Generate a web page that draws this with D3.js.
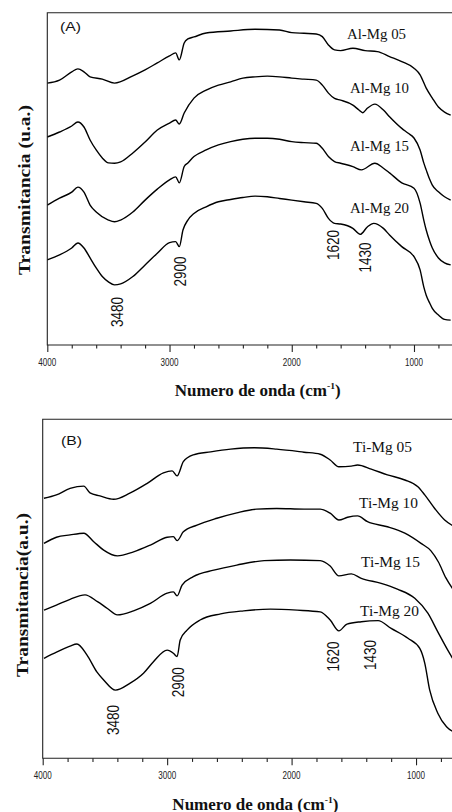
<!DOCTYPE html>
<html>
<head>
<meta charset="utf-8">
<script src="https://cdn.jsdelivr.net/npm/d3@7/dist/d3.min.js"></script>
<style>
  html, body { margin: 0; padding: 0; background: #fff; }
  svg { display: block; }
</style>
</head>
<body>
<script>
// ---------------- DATA (wavenumber cm-1, transmittance a.u. 0-100) ----------------
const alMg05 = [[4000,78.8],[3900,79.7],[3800,82.2],[3750,83.1],[3700,82.2],[3650,80.7],[3550,80.0],[3450,78.8],[3300,81.0],[3200,82.8],[3100,84.9],[3000,87.0],[2950,87.9],[2920,85.8],[2880,90.9],[2850,92.1],[2800,92.7],[2700,93.9],[2500,94.5],[2300,95.0],[2100,94.8],[2000,94.0],[1900,93.8],[1800,93.6],[1750,92.8],[1700,90.3],[1650,88.8],[1600,88.6],[1500,89.3],[1400,88.6],[1300,88.3],[1200,86.8],[1100,85.3],[1000,83.3],[950,81.3],[900,77.3],[850,74.3],[800,71.6],[750,70.1],[700,69.2]];
const alMg10 = [[4000,62.6],[3900,64.1],[3800,65.9],[3750,67.1],[3700,65.6],[3650,61.7],[3600,58.7],[3550,56.3],[3500,54.8],[3450,54.7],[3400,55.1],[3300,57.8],[3200,61.1],[3100,64.7],[3000,66.8],[2950,67.7],[2920,66.5],[2880,69.8],[2800,74.3],[2700,76.7],[2600,78.2],[2500,79.2],[2400,80.3],[2300,80.7],[2200,80.9],[2100,80.7],[2000,80.3],[1900,80.0],[1800,79.7],[1750,78.2],[1700,75.8],[1650,74.2],[1600,73.7],[1500,72.2],[1450,70.7],[1420,69.9],[1380,71.3],[1320,72.5],[1250,70.7],[1200,68.7],[1100,65.2],[1050,63.8],[1000,62.3],[950,58.7],[920,54.8],[900,52.7],[870,49.7],[850,48.1],[800,46.1],[750,44.6],[700,43.6]];
const alMg15 = [[4000,42.1],[3900,44.2],[3800,46.0],[3750,47.5],[3700,46.0],[3650,42.1],[3600,40.0],[3500,37.6],[3450,37.1],[3400,37.6],[3300,40.0],[3200,43.6],[3100,46.9],[3000,49.7],[2950,50.6],[2920,48.8],[2880,53.7],[2850,54.8],[2800,56.7],[2700,58.7],[2600,60.2],[2500,61.2],[2400,61.9],[2300,62.2],[2200,62.2],[2100,61.9],[2000,61.2],[1900,60.9],[1800,60.7],[1750,59.2],[1700,56.7],[1650,55.2],[1600,54.7],[1500,53.7],[1430,52.7],[1320,54.7],[1250,53.2],[1200,51.8],[1100,48.8],[1000,47.2],[950,42.7],[920,37.6],[900,34.6],[870,31.1],[850,29.2],[800,26.2],[750,24.7],[700,24.1]];
const alMg20 = [[4000,25.6],[3900,27.1],[3800,29.2],[3750,30.7],[3700,29.2],[3650,26.2],[3600,23.2],[3550,20.6],[3500,19.0],[3450,18.1],[3400,18.4],[3300,20.6],[3200,24.1],[3100,27.6],[3000,30.8],[2950,31.1],[2920,29.6],[2890,34.6],[2850,37.6],[2800,39.6],[2700,41.6],[2600,43.1],[2500,43.8],[2400,44.4],[2300,44.8],[2200,44.6],[2100,44.1],[2000,43.6],[1900,43.1],[1800,42.6],[1750,41.1],[1700,38.1],[1650,36.6],[1600,36.4],[1500,35.1],[1440,33.3],[1380,35.6],[1330,36.6],[1250,35.1],[1200,33.1],[1100,29.6],[1000,26.6],[950,22.6],[920,17.5],[900,15.0],[870,12.5],[850,11.0],[800,9.0],[750,7.7],[700,7.5]];

const tiMg05 = [[3990,76.7],[3890,77.7],[3780,79.6],[3670,80.3],[3620,78.3],[3540,77.4],[3430,76.4],[3300,78.2],[3160,81.1],[3030,84.2],[2960,84.8],[2920,83.3],[2870,87.5],[2790,89.5],[2650,90.4],[2490,91.2],[2300,91.6],[2120,91.2],[1900,90.3],[1770,89.7],[1690,88.0],[1620,86.0],[1520,86.2],[1470,86.5],[1360,85.3],[1230,83.6],[1090,82.1],[985,80.1],[930,77.7],[850,73.7],[770,70.3],[700,68.5]];
const tiMg10 = [[3990,63.4],[3890,65.2],[3780,65.9],[3670,66.4],[3590,63.9],[3510,61.4],[3400,59.7],[3270,60.9],[3135,62.9],[3000,65.2],[2950,65.4],[2920,64.2],[2870,66.8],[2760,68.8],[2600,70.8],[2440,72.4],[2280,73.5],[2120,73.7],[1900,73.5],[1770,73.5],[1690,72.3],[1620,70.3],[1550,71.1],[1470,71.5],[1390,69.8],[1230,68.3],[1090,66.4],[960,63.4],[880,61.2],[820,57.9],[760,53.2],[700,49.7]];
const tiMg15 = [[3990,43.7],[3890,45.2],[3780,46.9],[3660,48.2],[3560,46.2],[3480,44.2],[3400,42.3],[3270,43.5],[3135,45.7],[3000,48.7],[2950,49.1],[2920,47.9],[2880,51.1],[2790,53.6],[2625,55.5],[2440,57.0],[2220,58.3],[2010,58.5],[1770,58.3],[1690,56.7],[1620,53.8],[1520,54.4],[1440,53.1],[1280,51.6],[1150,49.9],[1010,47.2],[905,42.8],[825,37.3],[745,31.9],[700,29.1]];
const tiMg20 = [[3990,29.5],[3885,31.4],[3780,33.1],[3725,33.7],[3645,30.5],[3565,25.5],[3510,23.1],[3415,20.1],[3300,22.1],[3190,25.1],[3110,28.5],[3000,31.9],[2950,31.0],[2920,30.0],[2895,34.9],[2840,37.8],[2735,40.8],[2570,42.6],[2385,43.5],[2170,44.0],[1955,43.7],[1770,43.2],[1690,40.8],[1620,37.6],[1555,39.6],[1440,40.3],[1305,40.6],[1200,38.3],[1065,35.4],[970,32.4],[930,28.1],[890,20.1],[825,13.3],[755,9.3],[700,7.8]];

const seriesNamesA = ["Al-Mg 05","Al-Mg 10","Al-Mg 15","Al-Mg 20"];
const seriesNamesB = ["Ti-Mg 05","Ti-Mg 10","Ti-Mg 15","Ti-Mg 20"];
const peakLabels = ["3480","2900","1620","1430"];
const xMajorTicks = [4000,3000,2000,1000];
const xMinorTicks = [3800,3600,3400,3200,2800,2600,2400,2200,1800,1600,1400,1200,800];
const xTickLabels = ["4000","3000","2000","1000"];

// ---------------- LAYOUT ----------------
const W = 452, H = 812;
const SERIF = "'Liberation Serif','Times New Roman',serif";
const SANS = "'Liberation Sans',Arial,sans-serif";
const INK = "#111";

const svg = d3.select("body").append("svg").attr("width", W).attr("height", H);
svg.append("rect").attr("width", W).attr("height", H).attr("fill", "#fff");

function txt(g, s, x, y, o) {
  const t = g.append("text")
    .attr("font-family", o.family || SERIF)
    .attr("font-size", o.size)
    .attr("font-weight", o.weight || "normal")
    .attr("fill", o.fill || INK)
    .attr("text-anchor", o.anchor || "start");
  if (o.rotate) t.attr("transform", `translate(${x},${y}) rotate(-90)`).attr("x", 0).attr("y", 0);
  else t.attr("x", x).attr("y", y);
  if (o.len) t.attr("textLength", o.len).attr("lengthAdjust", "spacingAndGlyphs");
  t.text(s);
  return t;
}

const panels = [
  {
    data: [alMg05, alMg10, alMg15, alMg20], names: seriesNamesA, tag: "(A)",
    left: 47.3, top: 12.7, bottom: 345, wnRight: 689,
    tagPos: [60, 30.5],
    namePos: [[347,38.5],[350,93],[350,151],[350,213]],
    peakPos: [[3430,9.9],[2914,22.1],[1663,30.1],[1401,26.3]],
    tickLabelY: 365.5, xTitleY: 396, yTitle: "Transmitancia (u.a.)", yTitleX: 30, yTitleLen: 170, yTitleCY: 190
  },
  {
    data: [tiMg05, tiMg10, tiMg15, tiMg20], names: seriesNamesB, tag: "(B)",
    left: 42.7, top: 419.3, bottom: 758.3, wnRight: 711,
    tagPos: [61, 445],
    namePos: [[353,451.5],[359,508],[361,567],[360,616]],
    peakPos: [[3435,11.3],[2913,22.4],[1667,30.0],[1369,30.5]],
    tickLabelY: 779, xTitleY: 810, yTitle: "Transmitancia(a.u.)", yTitleX: 28, yTitleLen: 164, yTitleCY: 595
  }
];

panels.forEach(p => {
  const g = svg.append("g");
  const x = d3.scaleLinear().domain([4000, p.wnRight]).range([p.left, W]);
  const y = d3.scaleLinear().domain([0, 100]).range([p.bottom, p.top]);

  // frame: top + left + bottom axis line
  g.append("path")
    .attr("d", `M${W + 2},${p.top}H${p.left}V${p.bottom}H${W + 2}`)
    .attr("fill", "none").attr("stroke", "#222").attr("stroke-width", 1.1);

  // ticks (outward)
  const axis = d3.axisBottom(x).tickValues(xMajorTicks).tickSize(7).tickFormat("");
  const ag = g.append("g").attr("transform", `translate(0,${p.bottom})`).call(axis);
  ag.select(".domain").remove();
  ag.selectAll("line").attr("stroke", "#222").attr("stroke-width", 1.1);
  const axisMinor = d3.axisBottom(x).tickValues(xMinorTicks).tickSize(3.6).tickFormat("");
  const mg = g.append("g").attr("transform", `translate(0,${p.bottom})`).call(axisMinor);
  mg.select(".domain").remove();
  mg.selectAll("line").attr("stroke", "#222").attr("stroke-width", 1.1);

  // tick labels
  xMajorTicks.forEach((v, i) => {
    txt(g, xTickLabels[i], x(v), p.tickLabelY, { family: SANS, size: 11, anchor: "middle", len: 18, fill: "#222" });
  });

  // curves
  const line = d3.line().x(d => x(d[0])).y(d => y(d[1])).curve(d3.curveMonotoneX);
  const clipId = "clip" + p.tag.replace(/\W/g, "");
  g.append("clipPath").attr("id", clipId).append("rect")
    .attr("x", p.left).attr("y", p.top).attr("width", W - p.left).attr("height", p.bottom - p.top);
  g.append("g").attr("clip-path", `url(#${clipId})`)
    .selectAll("path.s").data(p.data).join("path")
    .attr("class", "s")
    .attr("d", line)
    .attr("fill", "none").attr("stroke", "#000").attr("stroke-width", 1.4).attr("stroke-linejoin", "round");

  // series names
  p.names.forEach((n, i) => {
    txt(g, n, p.namePos[i][0], p.namePos[i][1], { size: 15, len: 59 });
  });

  // panel tag
  txt(g, p.tag, p.tagPos[0], p.tagPos[1], { family: SANS, size: 12.5, len: 21 });

  // peak annotations (rotated)
  peakLabels.forEach((s, i) => {
    const [wn, v] = p.peakPos[i];
    txt(g, s, x(wn) + 6, y(v), { family: SANS, size: 16.5, anchor: "middle", rotate: true, len: 30 });
  });

  // x title
  const xt = g.append("text")
    .attr("x", (p.left + W) / 2 + 8).attr("y", p.xTitleY)
    .attr("text-anchor", "middle")
    .attr("font-family", SERIF).attr("font-weight", "bold").attr("font-size", 16)
    .attr("fill", INK)
    .attr("textLength", 166).attr("lengthAdjust", "spacingAndGlyphs");
  xt.append("tspan").text("Numero de onda (cm");
  xt.append("tspan").attr("font-size", 9).attr("dy", -7).text("-1");
  xt.append("tspan").attr("dy", 7).text(")");

  // y title
  txt(g, p.yTitle, p.yTitleX, p.yTitleCY, { size: 16, weight: "bold", anchor: "middle", rotate: true, len: p.yTitleLen });
});
</script>
</body>
</html>
